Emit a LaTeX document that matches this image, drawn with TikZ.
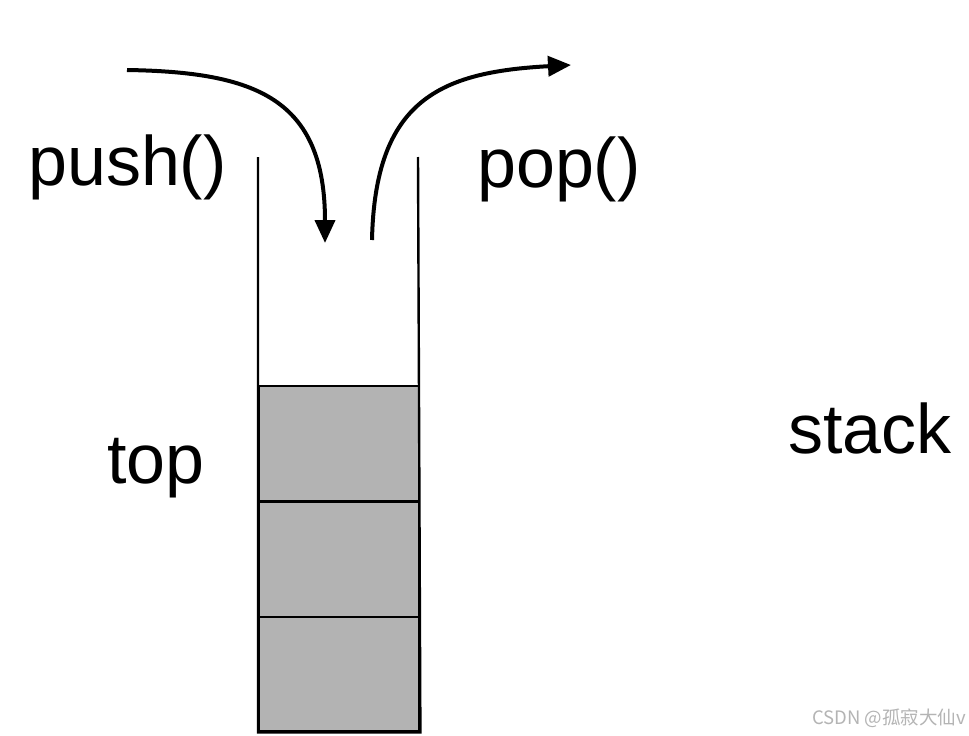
\documentclass[tikz,border=0pt]{standalone}
\usepackage{fontspec}
\setmainfont{Liberation Sans}
\newfontfamily\cjkwm{Noto Sans CJK SC}
\usetikzlibrary{arrows.meta}
\definecolor{cellgray}{HTML}{B3B3B3}
\definecolor{wmgray}{HTML}{B4B4B4}
\begin{document}
\begin{tikzpicture}[x=1pt,y=-1pt,
  bigtext/.style={inner sep=0pt,anchor=base west,font=\fontsize{70}{84}\selectfont},
  cellbox/.style={draw=black,fill=cellgray,line width=2.4pt,minimum width=160pt,minimum height=115pt,inner sep=0pt,anchor=north west},
  wall/.style={draw=black,line width=2.4pt},
  flow/.style={line width=4pt,-{Triangle[length=23pt,width=20pt]}}]
\useasboundingbox (0,0) rectangle (969,736);
\fill[white] (0,0) rectangle (969,736);
% stack cells
\node[cellbox] (c1) at (258,385) {};
\node[cellbox] (c2) at (258,501) {};
\node[cellbox, minimum height=114pt] (c3) at (258,616) {};
% walls
\coordinate (wl) at (258,157);
\coordinate (wr) at (418,157);
\draw[wall] (wl) -- (c3.south west) -- (c3.south east) -- (wr);
% labels
\node[bigtext] (push) at (28,185) {push()};
\node[bigtext] (pop) at (477,187) {pop()};
\node[bigtext] (top) at (107,483) {top};
\node[bigtext] (stack) at (788,453) {stack};
% arrows
\coordinate (ps) at (127,70);
\coordinate (pe) at (325,243);
\coordinate (qs) at (372,240);
\coordinate (qe) at (571,65);
\draw[flow] (ps) .. controls (255,72) and (325,98) .. (pe);
\draw[flow] (qs) .. controls (375,100) and (440,72) .. (qe);
% watermark
\node[inner sep=0pt,anchor=base east,text=wmgray,font=\cjkwm\fontsize{18.5}{22}\selectfont] (wm) at (966,724) {CSDN @孤寂大仙v};
\end{tikzpicture}
\end{document}
